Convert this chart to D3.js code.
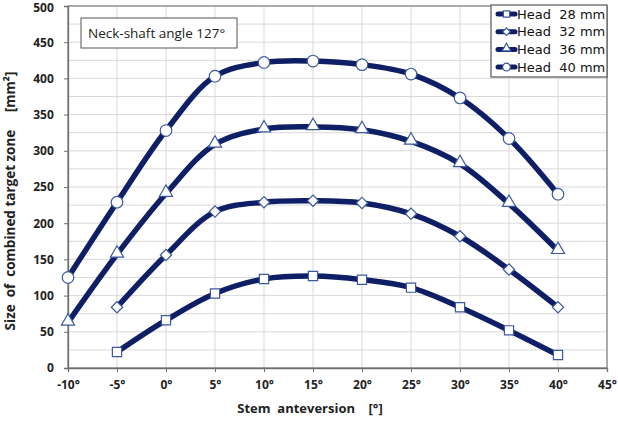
<!DOCTYPE html>
<html><head><meta charset="utf-8">
<script src="https://cdn.jsdelivr.net/npm/d3@7"></script>
<style>body{margin:0;background:#fff}</style>
</head><body>
<svg id="c" width="618" height="421"></svg>
<script>
const angles = [-10,-5,0,5,10,15,20,25,30,35,40];
const xTicks = [-10,-5,0,5,10,15,20,25,30,35,40,45];
const yTicks = [0,50,100,150,200,250,300,350,400,450,500];
const seriesNames = ["Head  28 mm","Head  32 mm","Head  36 mm","Head  40 mm"];
const head28 = [null,22,66,103,123,127,122,111,84,52,18];
const head32 = [null,84,156,216,229,231,228,213,182,136,84];
const head36 = [63,157,241,309,330,333,329,313,282,227,162];
const head40 = [125,229,328,403,422,424,419,406,373,317,240];
const symbols = ["square","diamond","triangle","circle"];
const seriesData = [head28,head32,head36,head40];

const svg = d3.select("#c");
const L=68,R=607,T=6,B=368;
const x = d3.scaleLinear().domain([-10,45]).range([L,R]);
const y = d3.scaleLinear().domain([0,500]).range([B,T]);
const navy="#0f1f66", mk="#3a5aa0";
const bodyFont="'Open Sans', 'Liberation Sans', sans-serif";

// gridlines
const g = svg.append("g");
d3.range(0,501,25).forEach(v=>{
  g.append("line").attr("x1",L).attr("x2",R).attr("y1",y(v)).attr("y2",y(v))
   .attr("stroke","#d9d9d9").attr("stroke-width",1);
});
xTicks.forEach(v=>{
  g.append("line").attr("x1",x(v)).attr("x2",x(v)).attr("y1",T).attr("y2",B)
   .attr("stroke","#d9d9d9").attr("stroke-width",1);
});
svg.append("rect").attr("x",L).attr("y",T).attr("width",R-L).attr("height",B-T)
  .attr("fill","none").attr("stroke","#808080").attr("stroke-width",1.2);

// axes
const xa = svg.append("g").attr("transform",`translate(0,${B})`)
  .call(d3.axisBottom(x).tickValues(xTicks).tickSize(4).tickFormat(d=>d+"°"));
const ya = svg.append("g").attr("transform",`translate(${L},0)`)
  .call(d3.axisLeft(y).tickValues(yTicks).tickSize(4));
[xa,ya].forEach(a=>{
  a.select(".domain").attr("stroke","#707070").attr("stroke-width",1.3);
  a.selectAll(".tick line").attr("stroke","#707070");
  a.selectAll("text").attr("font-family",bodyFont).attr("font-weight","bold")
   .attr("font-size",12).attr("fill","#222");
});
xa.selectAll("text").attr("dy","1.2em");
ya.selectAll("text").attr("dx","-0.6em");
ya.selectAll(".tick").filter(d=>d===500).select("text").attr("dy","0.45em");

// lines
const line = d3.line().defined(d=>d[1]!=null).x(d=>x(d[0])).y(d=>y(d[1]))
  .curve(d3.curveCatmullRom.alpha(0.5));
seriesData.forEach((s,i)=>{
  const pts = angles.map((a,j)=>[a,s[j]]);
  svg.append("path").datum(pts).attr("d",line).attr("fill","none")
    .attr("stroke",navy).attr("stroke-width",5.5).attr("stroke-linecap","round");
});
const symType = {square:d3.symbolSquare,diamond:d3.symbolSquare,triangle:d3.symbolTriangle,circle:d3.symbolCircle};
const symSize = {square:85,diamond:64,triangle:75,circle:105};
function marker(sel,sym,scale){
  const p = sel.append("path").attr("d",d3.symbol().type(symType[sym]).size(symSize[sym]*scale)())
    .attr("fill","#fff").attr("stroke",mk).attr("stroke-width",1.2);
  if(sym==="diamond") p.attr("transform","rotate(45)");
  if(sym==="triangle") p.attr("transform","translate(0,-1)");
}
seriesData.forEach((s,i)=>{
  angles.forEach((a,j)=>{
    if(s[j]==null) return;
    const gg = svg.append("g").attr("transform",`translate(${x(a)},${y(s[j])})`);
    marker(gg,symbols[i],1);
  });
});

// legend
const lg = svg.append("g");
lg.append("rect").attr("x",491).attr("y",5).attr("width",116).attr("height",72)
  .attr("fill","#fff").attr("stroke","#555").attr("stroke-width",1.2);
seriesNames.forEach((n,i)=>{
  const yy = 14+i*17.7;
  lg.append("line").attr("x1",498).attr("x2",515).attr("y1",yy).attr("y2",yy)
    .attr("stroke",navy).attr("stroke-width",5).attr("stroke-linecap","round");
  const gg = lg.append("g").attr("transform",`translate(506.5,${yy})`);
  marker(gg,symbols[i],0.45);
  lg.append("text").attr("x",517).attr("y",yy).attr("dy","0.35em")
    .attr("font-family","'DejaVu Sans', sans-serif").attr("font-size",13).attr("fill","#111")
    .attr("xml:space","preserve").text(n);
});

// annotation
svg.append("rect").attr("x",81).attr("y",18).attr("width",156).attr("height",30)
  .attr("fill","#fff").attr("stroke","#555").attr("stroke-width",1);
svg.append("text").attr("x",88).attr("y",33).attr("dy","0.35em")
  .attr("font-family",bodyFont).attr("font-size",13.5).attr("fill","#222")
  .text("Neck-shaft angle 127°");

// axis titles
svg.append("text").attr("x",310).attr("y",413)
  .attr("text-anchor","middle").attr("font-family",bodyFont).attr("font-weight","bold")
  .attr("font-size",13).attr("fill","#222").attr("xml:space","preserve")
  .text("Stem  anteversion    [°]");
svg.append("text").attr("transform","translate(15,201) rotate(-90)")
  .attr("text-anchor","middle").attr("font-family",bodyFont).attr("font-weight","bold")
  .attr("font-size",13.5).attr("fill","#222").attr("xml:space","preserve")
  .text("Size  of  combined target zone     [mm²]");
</script>
</body></html>
